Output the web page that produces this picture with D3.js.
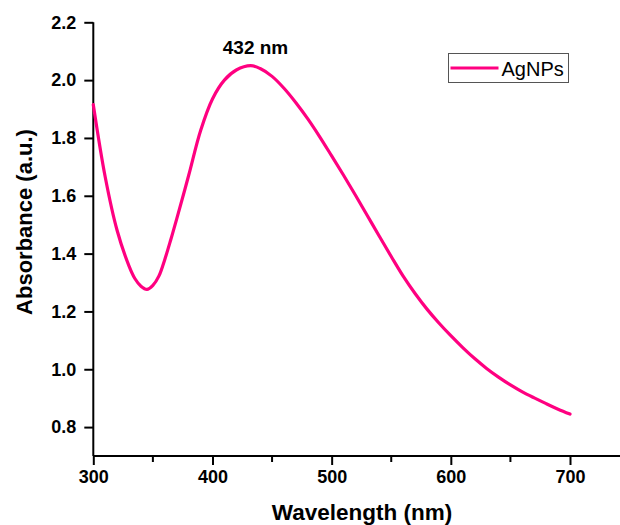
<!DOCTYPE html>
<html>
<head>
<meta charset="utf-8">
<script src="https://cdn.jsdelivr.net/npm/d3@7"></script>
<style>
  body { margin: 0; background: #fff; }
  svg { display: block; font-family: Arial, "Liberation Sans", sans-serif; }
</style>
</head>
<body>
<svg id="chart" width="620" height="525"></svg>
<script>
// UV-Vis spectrum
const wavelength = [300, 310, 320, 330, 335, 340, 345, 350, 355, 360, 365, 370, 380, 390, 400, 410, 420, 432,
  440, 450, 460, 470, 480, 490, 500, 510, 520, 530, 540, 550, 560, 570, 580, 590, 600,
  610, 620, 630, 640, 650, 660, 670, 680, 690, 700];
const absorbance = [1.915, 1.665, 1.48, 1.357, 1.313, 1.287, 1.276, 1.29, 1.322, 1.38, 1.448, 1.52, 1.67, 1.825, 1.935, 2.0, 2.035, 2.05,
  2.04, 2.013, 1.972, 1.922, 1.866, 1.804, 1.738, 1.671, 1.602, 1.531, 1.46, 1.39, 1.322, 1.262, 1.208, 1.16, 1.116,
  1.075, 1.037, 1.003, 0.973, 0.946, 0.922, 0.901, 0.881, 0.862, 0.845];
const xTicks = [300, 400, 500, 600, 700];
const xMinor = [350, 450, 550, 650];
const yTicks = [0.8, 1.0, 1.2, 1.4, 1.6, 1.8, 2.0, 2.2];
const seriesName = "AgNPs";
const peakLabel = "432 nm";

const lineColor = "#ff0080";

const svg = d3.select("#chart");

const x = d3.scaleLinear().domain([300, 700]).range([93.3, 570]);
const y = d3.scaleLinear().domain([0.7, 2.2]).range([456, 22.3]);
const xEnd = 620;

const data = wavelength.map((w, i) => [w, absorbance[i]]);

// x axis
const xAxis = svg.append("g")
  .attr("transform", `translate(0,${y(0.7)})`)
  .call(d3.axisBottom(x).tickValues(xTicks).tickSize(9).tickPadding(5).tickFormat(d3.format("d")));
xAxis.select(".domain").attr("d", `M${x(300)},0H${xEnd}`);

xAxis.selectAll(".minor")
  .data(xMinor)
  .join("line")
    .attr("class", "minor")
    .attr("x1", d => x(d)).attr("x2", d => x(d))
    .attr("y1", 0).attr("y2", 6)
    .attr("stroke", "#000").attr("stroke-width", 2);

// y axis
const yAxis = svg.append("g")
  .attr("transform", `translate(${x(300)},0)`)
  .call(d3.axisLeft(y).tickValues(yTicks).tickSize(9).tickPadding(8).tickFormat(d3.format(".1f")));
yAxis.select(".domain").attr("d", `M0,${y(2.2)}V${y(0.7)}`);

svg.selectAll(".domain, .tick line").attr("stroke", "#000").attr("stroke-width", 2);
svg.selectAll("g").attr("font-family", "Arial, 'Liberation Sans', sans-serif");
svg.selectAll(".tick text")
  .attr("font-size", "18px")
  .attr("font-weight", "bold")
  .attr("fill", "#000");

// spectrum
const line = d3.line()
  .curve(d3.curveCatmullRom.alpha(0.5))
  .x(d => x(d[0]))
  .y(d => y(d[1]));

svg.append("path")
  .datum(data)
  .attr("fill", "none")
  .attr("stroke", lineColor)
  .attr("stroke-width", 3.2)
  .attr("stroke-linejoin", "round")
  .attr("stroke-linecap", "round")
  .attr("d", line);

// peak label
svg.append("text")
  .attr("x", 255.5)
  .attr("y", 54)
  .attr("text-anchor", "middle")
  .attr("font-weight", "bold")
  .attr("font-size", "19px")
  .text(peakLabel);

// axis titles
svg.append("text")
  .attr("x", 362)
  .attr("y", 520)
  .attr("text-anchor", "middle")
  .attr("font-weight", "bold")
  .attr("font-size", "22.5px")
  .text("Wavelength (nm)");

svg.append("text")
  .attr("transform", `translate(32,222) rotate(-90)`)
  .attr("text-anchor", "middle")
  .attr("font-weight", "bold")
  .attr("font-size", "22px")
  .text("Absorbance (a.u.)");

// legend
const legend = svg.append("g").attr("transform", "translate(448.5,53.5)");
legend.append("rect")
  .attr("width", 120).attr("height", 29)
  .attr("fill", "#fff")
  .attr("stroke", "#555").attr("stroke-width", 1);
legend.append("line")
  .attr("x1", 2).attr("x2", 50)
  .attr("y1", 14.5).attr("y2", 14.5)
  .attr("stroke", lineColor).attr("stroke-width", 3);
legend.append("text")
  .attr("x", 53).attr("y", 22)
  .attr("font-size", "20px")
  .text(seriesName);
</script>
</body>
</html>
